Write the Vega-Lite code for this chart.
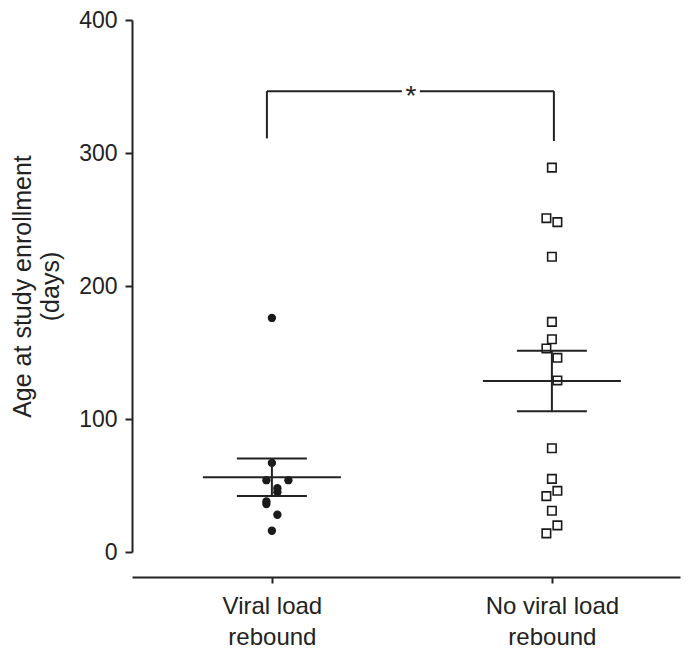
{
  "$schema": "https://vega.github.io/schema/vega-lite/v6.json",
  "width": 548,
  "height": 532,
  "autosize": {"type": "none"},
  "padding": {"left": 132, "top": 20, "right": 20, "bottom": 103},
  "background": "white",
  "config": {
    "view": {"stroke": null},
    "font": "Liberation Sans",
    "axis": {"grid": false, "domainColor": "#222", "tickColor": "#222", "labelColor": "#222", "titleColor": "#222"}
  },
  "datasets": {
    "obs": [
      {"group": "Viral load rebound", "age": 176, "slot": 0},
      {"group": "Viral load rebound", "age": 67, "slot": 0},
      {"group": "Viral load rebound", "age": 54, "slot": -1},
      {"group": "Viral load rebound", "age": 54, "slot": 3},
      {"group": "Viral load rebound", "age": 48, "slot": 1},
      {"group": "Viral load rebound", "age": 45, "slot": 1},
      {"group": "Viral load rebound", "age": 38, "slot": -1},
      {"group": "Viral load rebound", "age": 36, "slot": -1},
      {"group": "Viral load rebound", "age": 28, "slot": 1},
      {"group": "Viral load rebound", "age": 16, "slot": 0},
      {"group": "No viral load rebound", "age": 289, "slot": 0},
      {"group": "No viral load rebound", "age": 251, "slot": -1},
      {"group": "No viral load rebound", "age": 248, "slot": 1},
      {"group": "No viral load rebound", "age": 222, "slot": 0},
      {"group": "No viral load rebound", "age": 173, "slot": 0},
      {"group": "No viral load rebound", "age": 160, "slot": 0},
      {"group": "No viral load rebound", "age": 153, "slot": -1},
      {"group": "No viral load rebound", "age": 146, "slot": 1},
      {"group": "No viral load rebound", "age": 129, "slot": 1},
      {"group": "No viral load rebound", "age": 78, "slot": 0},
      {"group": "No viral load rebound", "age": 55, "slot": 0},
      {"group": "No viral load rebound", "age": 46, "slot": 1},
      {"group": "No viral load rebound", "age": 42, "slot": -1},
      {"group": "No viral load rebound", "age": 31, "slot": 0},
      {"group": "No viral load rebound", "age": 20, "slot": 1},
      {"group": "No viral load rebound", "age": 14, "slot": -1}
    ],
    "bracket": [
      {"from": "Viral load rebound", "to": "No viral load rebound", "top": 346.5, "leftEnd": 311, "rightEnd": 309, "label": "*"}
    ]
  },
  "layer": [
    {
      "data": {"name": "obs"},
      "transform": [{"filter": "datum.group == 'Viral load rebound'"}],
      "mark": {"type": "point", "shape": "circle", "filled": true, "size": 70, "color": "#1a1a1a", "opacity": 1},
      "encoding": {
        "x": {
          "field": "group", "type": "nominal", "title": null,
          "scale": {"type": "point", "domain": ["Viral load rebound", "No viral load rebound"], "padding": 0.4786, "align": 0.522},
          "axis": {
            "offset": 25, "domainWidth": 2, "tickWidth": 2, "tickSize": 6, "labelAngle": 0,
            "labelFontSize": 24, "labelPadding": 11, "labelLineHeight": 31,
            "labelExpr": "[slice(datum.label, 0, lastindexof(datum.label, ' ')), slice(datum.label, lastindexof(datum.label, ' ') + 1)]"
          }
        },
        "xOffset": {"field": "slot", "type": "quantitative", "scale": {"domain": [-1, 1], "range": [-5.5, 5.5]}},
        "y": {
          "field": "age", "type": "quantitative",
          "title": ["Age at study enrollment", "(days)"],
          "scale": {"domain": [0, 400], "nice": false},
          "axis": {
            "values": [0, 100, 200, 300, 400], "domainWidth": 2, "tickWidth": 2, "tickSize": 7,
            "labelFontSize": 23, "labelPadding": 8,
            "titleFontSize": 25, "titleFontWeight": "normal", "titleLineHeight": 28, "titlePadding": 15
          }
        }
      }
    },
    {
      "data": {"name": "obs"},
      "transform": [{"filter": "datum.group == 'No viral load rebound'"}],
      "mark": {"type": "point", "shape": "square", "filled": false, "size": 72, "stroke": "#1a1a1a", "strokeWidth": 1.6, "opacity": 1},
      "encoding": {
        "x": {"field": "group", "type": "nominal", "title": null},
        "xOffset": {"field": "slot", "type": "quantitative", "scale": {"domain": [-1, 1], "range": [-5.5, 5.5]}},
        "y": {"field": "age", "type": "quantitative", "title": ["Age at study enrollment", "(days)"]}
      }
    },
    {
      "data": {"name": "obs"},
      "mark": {"type": "tick", "size": 138, "thickness": 2, "color": "#222"},
      "encoding": {
        "x": {"field": "group", "type": "nominal", "title": null},
        "y": {"field": "age", "type": "quantitative", "aggregate": "mean", "title": ["Age at study enrollment", "(days)"]}
      }
    },
    {
      "data": {"name": "obs"},
      "mark": {"type": "errorbar", "extent": "stderr", "ticks": {"color": "#222", "thickness": 2, "opacity": 1}, "size": 70, "thickness": 2, "color": "#222"},
      "encoding": {
        "x": {"field": "group", "type": "nominal", "title": null},
        "y": {"field": "age", "type": "quantitative", "title": ["Age at study enrollment", "(days)"]}
      }
    },
    {
      "data": {"name": "bracket"},
      "mark": {"type": "rule", "strokeWidth": 2, "color": "#222", "xOffset": -5},
      "encoding": {
        "x": {"field": "from", "type": "nominal", "title": null},
        "y": {"field": "top", "type": "quantitative", "title": ["Age at study enrollment", "(days)"]},
        "y2": {"field": "leftEnd"}
      }
    },
    {
      "data": {"name": "bracket"},
      "mark": {"type": "rule", "strokeWidth": 2, "color": "#222", "xOffset": 2},
      "encoding": {
        "x": {"field": "to", "type": "nominal", "title": null},
        "y": {"field": "top", "type": "quantitative", "title": ["Age at study enrollment", "(days)"]},
        "y2": {"field": "rightEnd"}
      }
    },
    {
      "data": {"name": "bracket"},
      "mark": {"type": "rule", "strokeWidth": 2, "color": "#222", "xOffset": -5, "x2Offset": -150},
      "encoding": {
        "x": {"field": "from", "type": "nominal", "title": null},
        "x2": {"field": "to"},
        "y": {"field": "top", "type": "quantitative", "title": ["Age at study enrollment", "(days)"]}
      }
    },
    {
      "data": {"name": "bracket"},
      "mark": {"type": "rule", "strokeWidth": 2, "color": "#222", "xOffset": 2, "x2Offset": 148},
      "encoding": {
        "x": {"field": "to", "type": "nominal", "title": null},
        "x2": {"field": "from"},
        "y": {"field": "top", "type": "quantitative", "title": ["Age at study enrollment", "(days)"]}
      }
    },
    {
      "data": {"name": "bracket"},
      "mark": {"type": "text", "fontSize": 28, "color": "#222", "dx": 139, "dy": 6, "baseline": "middle", "align": "center"},
      "encoding": {
        "x": {"field": "from", "type": "nominal", "title": null},
        "y": {"field": "top", "type": "quantitative", "title": ["Age at study enrollment", "(days)"]},
        "text": {"field": "label"}
      }
    }
  ]
}
